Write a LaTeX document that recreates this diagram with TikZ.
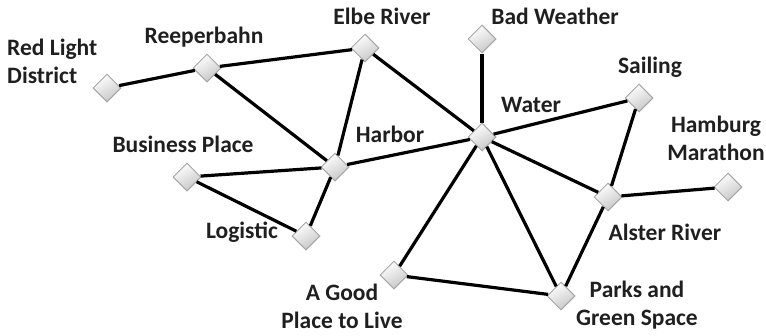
\documentclass[tikz,border=0pt]{standalone}
\usepackage{fontspec}
\setmainfont{Carlito}
\usetikzlibrary{shapes.geometric}
\tikzstyle{place} = [diamond, minimum size=28pt, inner sep=0pt, draw=gray!70, line width=1pt, top color=white, bottom color=gray!45, shading angle=30]
\tikzstyle{tag} = [font=\bfseries\fontsize{23.5}{28}\selectfont, text=black!88, inner sep=0pt, anchor=base, align=center]
\tikzstyle{link} = [line width=3.2pt, black]

\begin{document}
\begin{tikzpicture}[x=1pt, y=-1pt]
\useasboundingbox (0,0) rectangle (766,335);

\node (redlight) [place] at (107,88) {};
\node (reeper) [place] at (207,68) {};
\node (elbe) [place] at (365,48) {};
\node (weather) [place] at (482,39) {};
\node (sailing) [place] at (639,98) {};
\node (water) [place] at (482,137) {};
\node (harbor) [place] at (335,167) {};
\node (business) [place] at (187,177) {};
\node (marathon) [place] at (728,187) {};
\node (alster) [place] at (608,197) {};
\node (logistic) [place] at (306,236) {};
\node (goodplace) [place] at (394,275) {};
\node (parks) [place] at (561,296) {};

\node (redlighttxt) [tag, anchor=base west, align=left] at (7,83) {Red Light\\District};
\node (reepertxt) [tag] at (204,43) {Reeperbahn};
\node (elbetxt) [tag] at (382,24) {Elbe River};
\node (weathertxt) [tag] at (555,24) {Bad Weather};
\node (sailingtxt) [tag] at (650,73) {Sailing};
\node (marathontxt) [tag] at (716,160) {Hamburg\\Marathon};
\node (watertxt) [tag] at (531,112) {Water};
\node (harbortxt) [tag] at (390,142) {Harbor};
\node (businesstxt) [tag] at (183,152) {Business Place};
\node (logistictxt) [tag] at (242,238) {Logistic};
\node (alstertxt) [tag] at (665,240) {Alster River};
\node (parkstxt) [tag] at (637,325) {Parks and\\Green Space};
\node (goodplacetxt) [tag] at (342,328) {A Good\\Place to Live};

\draw [link] (redlight) -- (reeper);
\draw [link] (reeper) -- (elbe);
\draw [link] (reeper) -- (harbor);
\draw [link] (elbe) -- (harbor);
\draw [link] (elbe) -- (water);
\draw [link] (weather) -- (water);
\draw [link] (water) -- (sailing);
\draw [link] (water) -- (harbor);
\draw [link] (harbor) -- (business);
\draw [link] (harbor) -- (logistic);
\draw [link] (business) -- (logistic);
\draw [link] (sailing) -- (alster);
\draw [link] (alster) -- (marathon);
\draw [link] (water) -- (alster);
\draw [link] (water) -- (goodplace);
\draw [link] (water) -- (parks);
\draw [link] (goodplace) -- (parks);
\draw [link] (alster) -- (parks);
\end{tikzpicture}
\end{document}
